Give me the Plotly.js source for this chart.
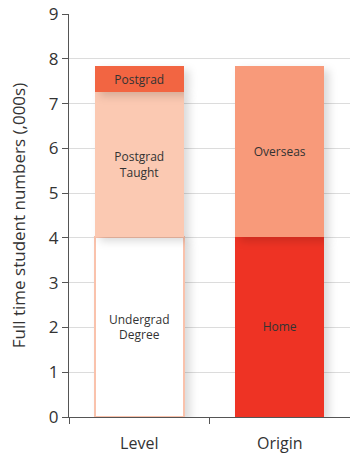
<!DOCTYPE html>
<html>
<head>
<meta charset="utf-8">
<script src="https://cdn.plot.ly/plotly-3.0.1.min.js"></script>
<style>
html,body{margin:0;padding:0;background:#fff;}
#chart{width:350px;height:457px;}
.barlayer .point path{filter:drop-shadow(5px 4px 4px rgba(0,0,0,0.15));}
</style>
</head>
<body>
<div id="chart"></div>
<script>
const categories = ['Level', 'Origin'];
const undergrad = 4.02;   // Level
const postgradTaught = 3.24; // Level
const postgradResearch = 0.57; // Level
const home = 4.02;        // Origin
const overseas = 3.81;    // Origin
const yTicks = [0,1,2,3,4,5,6,7,8,9];

const BW = 0.63;
const tf = {family: 'Open Sans, sans-serif', size: 12, color: '#333'};
function seg(x, y, label, fill, line) {
  return {
    type: 'bar', x: [x], y: [y], width: BW,
    text: [label], textposition: 'inside', insidetextanchor: 'middle',
    textangle: 0, constraintext: 'none', textfont: tf,
    marker: {color: fill, line: {color: line || fill, width: line ? 2 : 0}},
    hoverinfo: 'skip', showlegend: false
  };
}
const data = [
  seg(categories[0], undergrad, 'Undergrad<br>Degree', '#ffffff', '#F9C2AC'),
  seg(categories[1], home, 'Home', '#EE3324'),
  seg(categories[0], postgradTaught, 'Postgrad<br>Taught', '#FBC9B2'),
  seg(categories[1], overseas, 'Overseas', '#F89A7A'),
  seg(categories[0], postgradResearch, 'Postgrad', '#F26542')
];
const layout = {
  width: 350, height: 457,
  margin: {l: 69, r: 0, t: 14, b: 40},
  paper_bgcolor: '#fff', plot_bgcolor: '#fff',
  barmode: 'stack',
  font: {family: 'Open Sans, sans-serif', color: '#333'},
  xaxis: {
    type: 'category', range: [-0.5, 1.5],
    showline: true, linecolor: '#555', linewidth: 1,
    ticks: 'outside', tickson: 'boundaries', ticklen: 6, tickcolor: '#555',
    ticklabelstandoff: 12,
    tickfont: {size: 16, color: '#333'}, showgrid: false, fixedrange: true
  },
  yaxis: {
    range: [0, 9], tickvals: yTicks,
    showline: true, linecolor: '#555', linewidth: 1,
    ticks: 'outside', ticklen: 6, tickcolor: '#555',
    tickfont: {size: 17, color: '#333'},
    showgrid: true, gridcolor: '#dcdcdc', zeroline: false,
    title: {text: 'Full time student numbers (,000s)', font: {size: 17, color: '#333'}, standoff: 18}
  }
};
Plotly.newPlot('chart', data, layout, {staticPlot: true});
</script>
</body>
</html>
